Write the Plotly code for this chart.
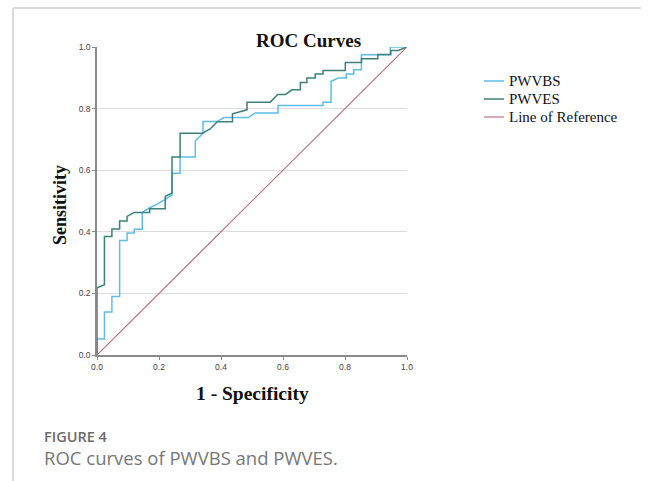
import plotly.graph_objects as go

# ROC curve coordinates (1 - specificity, sensitivity)
pwvbs_fpr = [0, 0, 0.024, 0.024, 0.048, 0.048, 0.073, 0.073, 0.097, 0.097, 0.12, 0.12,
             0.146, 0.146, 0.17, 0.195, 0.22, 0.242, 0.242, 0.268, 0.268, 0.317, 0.317,
             0.342, 0.342, 0.387, 0.41, 0.488, 0.51, 0.584, 0.584, 0.729, 0.729, 0.755,
             0.755, 0.777, 0.804, 0.804, 0.828, 0.828, 0.853, 0.853, 0.946, 0.946, 1.0]
pwvbs_tpr = [0, 0.052, 0.052, 0.14, 0.14, 0.19, 0.19, 0.372, 0.372, 0.396, 0.396, 0.408,
             0.408, 0.463, 0.478, 0.49, 0.505, 0.52, 0.59, 0.59, 0.643, 0.643, 0.695,
             0.72, 0.758, 0.758, 0.771, 0.771, 0.786, 0.786, 0.81, 0.81, 0.821, 0.821,
             0.888, 0.899, 0.899, 0.912, 0.912, 0.926, 0.926, 0.975, 0.975, 1.0, 1.0]

pwves_fpr = [0, 0, 0.024, 0.024, 0.048, 0.048, 0.073, 0.073, 0.097, 0.097, 0.12, 0.17,
             0.17, 0.22, 0.22, 0.242, 0.242, 0.268, 0.268, 0.34, 0.365, 0.388, 0.437,
             0.437, 0.484, 0.484, 0.559, 0.583, 0.608, 0.629, 0.656, 0.656, 0.677, 0.677,
             0.704, 0.704, 0.729, 0.729, 0.801, 0.801, 0.853, 0.853, 0.906, 0.906, 0.948,
             0.948, 0.972, 1.0]
pwves_tpr = [0, 0.218, 0.228, 0.385, 0.385, 0.409, 0.409, 0.435, 0.435, 0.45, 0.463, 0.463,
             0.475, 0.475, 0.515, 0.526, 0.643, 0.643, 0.72, 0.72, 0.734, 0.757, 0.757,
             0.783, 0.796, 0.821, 0.821, 0.846, 0.846, 0.861, 0.861, 0.885, 0.885, 0.899,
             0.899, 0.912, 0.912, 0.924, 0.924, 0.95, 0.95, 0.962, 0.962, 0.976, 0.976,
             0.989, 0.989, 1.0]

ref_x = [0, 1]
ref_y = [0, 1]

tick_vals = [0.0, 0.2, 0.4, 0.6, 0.8, 1.0]
tick_text = ["0.0", "0.2", "0.4", "0.6", "0.8", "1.0"]

series_names = ["PWVBS", "PWVES", "Line of Reference"]
series_colors = ["#5DBDE6", "#3E8079", "#B5737F"]
series_widths = [1.5, 1.5, 1.2]

fig = go.Figure()
fig.add_trace(go.Scatter(x=pwvbs_fpr, y=pwvbs_tpr, mode="lines", name=series_names[0],
                         line=dict(color=series_colors[0], width=series_widths[0])))
fig.add_trace(go.Scatter(x=pwves_fpr, y=pwves_tpr, mode="lines", name=series_names[1],
                         line=dict(color=series_colors[1], width=series_widths[1])))
fig.add_trace(go.Scatter(x=ref_x, y=ref_y, mode="lines", name=series_names[2],
                         line=dict(color=series_colors[2], width=series_widths[2])))

W, H = 655, 481
L, R, T, B = 97, 248, 47, 126
pw, ph = W - L - R, H - T - B


def px(xp):
    return (xp - L) / pw


def py(yp):
    return (H - B - yp) / ph


serif = "Liberation Serif, Times New Roman, serif"
sans = "Liberation Sans, Arial, sans-serif"

fig.update_layout(
    width=W, height=H,
    margin=dict(l=L, r=R, t=T, b=B, pad=0),
    paper_bgcolor="white", plot_bgcolor="white",
    showlegend=False,
    xaxis=dict(range=[0, 1], tickvals=tick_vals, ticktext=tick_text,
               showgrid=False, zeroline=False, showline=True,
               linecolor="#8a8a8a", linewidth=1.5, ticks="outside", ticklen=3,
               tickcolor="#8a8a8a", tickfont=dict(family=sans, size=8.5, color="#444"),
               fixedrange=True),
    yaxis=dict(range=[0, 1], tickvals=tick_vals, ticktext=tick_text,
               showgrid=True, gridcolor="#dcdcdc", gridwidth=1, zeroline=False,
               showline=True, linecolor="#8a8a8a", linewidth=1.5, ticks="outside",
               ticklen=3, tickcolor="#8a8a8a",
               tickfont=dict(family=sans, size=8.5, color="#444"), fixedrange=True),
)

annotations = [
    dict(text="<b>ROC Curves</b>", x=px(308), y=py(40), xref="paper", yref="paper",
         showarrow=False, font=dict(family=serif, size=19, color="#111"),
         xanchor="center", yanchor="middle"),
    dict(text="<b>1 - Specificity</b>", x=px(252), y=py(393), xref="paper", yref="paper",
         showarrow=False, font=dict(family=serif, size=19.5, color="#111"),
         xanchor="center", yanchor="middle"),
    dict(text="<b>Sensitivity</b>", x=px(60), y=py(205), xref="paper", yref="paper",
         showarrow=False, textangle=-90, font=dict(family=serif, size=18, color="#111"),
         xanchor="center", yanchor="middle"),
    dict(text="FIGURE 4", x=px(42), y=py(436), xref="paper", yref="paper",
         showarrow=False, font=dict(family="Open Sans, sans-serif", size=14.5,
                                    color="#6b6b6b", weight=600),
         xanchor="left", yanchor="middle"),
    dict(text="ROC curves of PWVBS and PWVES.", x=px(42), y=py(458), xref="paper",
         yref="paper", showarrow=False,
         font=dict(family="Open Sans, sans-serif", size=18.5, color="#777"),
         xanchor="left", yanchor="middle"),
]

# custom legend (compact spacing as in the reference)
legend_rows = [81, 99, 117]
for name, color, width, row in zip(series_names, series_colors, series_widths, legend_rows):
    fig.add_shape(type="line", xref="paper", yref="paper", x0=px(484), x1=px(504),
                  y0=py(row), y1=py(row), line=dict(color=color, width=width))
    annotations.append(dict(text=name, x=px(507), y=py(row), xref="paper", yref="paper",
                            showarrow=False, xanchor="left", yanchor="middle",
                            font=dict(family=serif, size=15, color="#111")))

fig.update_layout(annotations=annotations)

frame = dict(color="#d0d0d6", width=1.5)
fig.add_shape(type="line", xref="paper", yref="paper", x0=px(13), x1=px(13),
              y0=py(8), y1=py(481), line=frame)
fig.add_shape(type="line", xref="paper", yref="paper", x0=px(13), x1=px(641),
              y0=py(8), y1=py(8), line=frame)

fig.write_html("out.html")
